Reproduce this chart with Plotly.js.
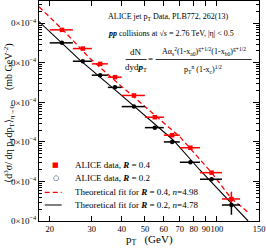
<!DOCTYPE html>
<html><head><meta charset="utf-8">
<script src="https://cdn.plot.ly/plotly-3.0.1.min.js"></script>
<style>html,body{margin:0;padding:0;background:#fff}#c{width:266px;height:248px}</style>
</head><body><div id="c"></div>
<script>
// data
const pT      = [22.5, 27.5, 32.5, 37.5, 45, 55, 65, 77.5, 95, 115];
const pTerr   = [2.5, 2.5, 2.5, 2.5, 5, 5, 5, 7.5, 10, 10];
const yR04    = [6.84e-5, 2.30e-5, 9.44e-6, 4.35e-6, 1.50e-6, 4.22e-7, 1.48e-7, 7.13e-8, 1.67e-8, 3.61e-9];
const yR04up  = [0, 0, 0, 0, 0, 0, 0, 0, 0, 1.9e-9];
const yR04dn  = [0, 0, 0, 0, 0, 0, 0, 0, 0, 0.75e-9];
const yR02    = [3.21e-5, 1.10e-5, 4.89e-6, 2.40e-6, 7.83e-7, 2.30e-7, 1.0e-7, 3.06e-8, 1.14e-8, 2.54e-9];
const yR02up  = [0, 0, 0, 0, 0, 0, 0, 0, 0, 0.3e-9];
const yR02dn  = [0, 0, 0, 0, 0, 0, 0, 0, 0, 1.1e-9];
const fitX04  = [18.04, 22.71, 29.41, 39.27, 69.97, 95.25, 114.4, 136];
const fitY04  = [2.62e-4, 6.84e-5, 1.31e-5, 2.77e-6, 1.36e-7, 1.64e-8, 3.82e-9, 1.6e-9];
const fitX02  = [18.04, 26.69, 39.27, 65.62, 84.86, 135.1];
const fitY02  = [1.11e-4, 1.19e-5, 1.64e-6, 1.12e-7, 1.95e-8, 1.0e-9];
const xTicks  = [20, 30, 40, 50, 60, 70, 80, 90, 100, 150];

const F = "Liberation Serif";
const minorY = [];
for (let e = -9; e <= -4; e++) for (let m = 2; m <= 9; m++) minorY.push(m * Math.pow(10, e));

const traces = [
  {x: fitX04, y: fitY04, mode: 'lines', line: {color: '#ff0000', width: 1.3, dash: '5px,3px'}, hoverinfo: 'skip'},
  {x: fitX02, y: fitY02, mode: 'lines', line: {color: '#000000', width: 1.1}, hoverinfo: 'skip'},
  {x: pT, y: yR04, mode: 'markers', marker: {symbol: 'square', size: 4.5, color: '#ff0000'},
   error_x: {type: 'data', array: pTerr, color: '#ff0000', thickness: 1.5, width: 0},
   error_y: {type: 'data', array: yR04up, arrayminus: yR04dn, color: '#ff0000', thickness: 1.5, width: 0}},
  {x: pT, y: yR02, mode: 'markers', marker: {symbol: 'circle', size: 4.5, color: '#000000'},
   error_x: {type: 'data', array: pTerr, color: '#000000', thickness: 1.5, width: 0},
   error_y: {type: 'data', array: yR02up, arrayminus: yR02dn, color: '#000000', thickness: 1.5, width: 0}}
];

const px = v => (v - 39.3) / 220;
const py = v => (221 - v) / 220;
const ann = (x, y, text, opts) => Object.assign({xref: 'paper', yref: 'paper', x: px(x), y: py(y), text: text,
  showarrow: false, xanchor: 'left', yanchor: 'middle', font: {family: F, size: 8, color: '#000'}}, opts || {});

const annotations = [
  ann(106, 17.3, 'ALICE jet p<sub>T</sub> Data, PLB772, 262(13)'),
  ann(106, 33.7, '<b><i>pp</i></b> collisions at √<i>s</i> = 2.76 TeV, |η| < 0.5'),
  ann(136, 52, 'dN', {xanchor: 'center', font: {family: F, size: 9, color: '#000'}}),
  ann(136, 67, 'dyd<b><i>p</i></b><sub>T</sub>', {xanchor: 'center', font: {family: F, size: 9, color: '#000'}}),
  ann(151, 59.5, '=', {xanchor: 'center', font: {family: F, size: 9, color: '#000'}}),
  ann(204, 51, 'Aα<sub>s</sub><sup>2</sup>(1-x<sub>a0</sub>)<sup>g+1/2</sup>(1-x<sub>b0</sub>)<sup>g+1/2</sup>', {xanchor: 'center', font: {family: F, size: 8, color: '#000'}}),
  ann(203, 70, 'p<sub>T</sub><sup>n</sup> (1-x<sub>c</sub>)<sup>1/2</sup>', {xanchor: 'center', font: {family: F, size: 8, color: '#000'}}),
  // legend
  ann(56, 165.3, '■', {xanchor: 'center', font: {family: 'DejaVu Sans', size: 7, color: '#ff0000'}}),
  ann(73, 165.3, 'ALICE data, <b><i>R</i></b> = 0.4', {font: {family: F, size: 9, color: '#000'}}),
  ann(56, 178, '○', {xanchor: 'center', font: {family: 'DejaVu Sans', size: 7, color: '#000'}}),
  ann(73, 178, 'ALICE data, <b><i>R</i></b> = 0.2', {font: {family: F, size: 9, color: '#000'}}),
  ann(73, 192.3, 'Theoretical fit for <b><i>R</i></b> = 0.4, <i>n</i>=4.98', {font: {family: F, size: 9, color: '#000'}}),
  ann(73, 205, 'Theoretical fit for <b><i>R</i></b> = 0.2, <i>n</i>=4.78', {font: {family: F, size: 9, color: '#000'}}),
  // axis titles
  ann(9, 113, '⟨d<sup>3</sup>σ/ dη p<sub>T</sub>dp<sub>T</sub>⟩<sub>η→0</sub>      (mb GeV<sup>-2</sup>)', {xanchor: 'center', textangle: -90, font: {family: F, size: 10, color: '#000'}}),
  ann(150, 240, 'p<sub>T</sub>   (GeV)', {xanchor: 'center', font: {family: F, size: 11, color: '#000'}})
];

const lineShape = (x0, x1, y, color, dash, w) => ({type: 'line', xref: 'paper', yref: 'paper',
  x0: px(x0), x1: px(x1), y0: py(y), y1: py(y), line: {color: color, width: w || 1, dash: dash || 'solid'}});
const shapes = [
  lineShape(126, 147, 59.5, '#000', 'solid', 0.8),
  lineShape(156, 252, 59.5, '#000', 'solid', 0.8),
  lineShape(45, 62, 192.3, '#ff0000', '5px,3px', 1.3),
  lineShape(45, 62, 205, '#555', 'solid', 1.5)
];

const layout = {
  width: 266, height: 248,
  margin: {l: 39, r: 7, t: 1, b: 27, pad: 0},
  paper_bgcolor: '#fff', plot_bgcolor: '#fff',
  showlegend: false,
  font: {family: F, size: 9, color: '#000'},
  xaxis: {type: 'log', range: [Math.log10(18.04), Math.log10(150)],
    tickmode: 'array', tickvals: xTicks, ticktext: xTicks.map(String), tickangle: 0,
    ticks: 'inside', ticklen: 5, tickwidth: 1, tickcolor: '#000',
    showline: true, linecolor: '#000', linewidth: 1, mirror: 'allticks',
    showgrid: false, zeroline: false, tickfont: {family: F, size: 8.5}},
  yaxis: {type: 'log', range: [-9, -3.435], dtick: 1, exponentformat: 'power',
    ticks: 'inside', ticklen: 6, tickwidth: 1, tickcolor: '#000',
    minor: {tickmode: 'array', tickvals: minorY, ticks: 'inside', ticklen: 3, tickwidth: 1, tickcolor: '#000', showgrid: false},
    showline: true, linecolor: '#000', linewidth: 1, mirror: 'allticks',
    showgrid: false, zeroline: false, tickfont: {family: F, size: 9}},
  annotations: annotations,
  shapes: shapes
};

Plotly.newPlot('c', traces, layout, {staticPlot: true, displayModeBar: false});
</script></body></html>
